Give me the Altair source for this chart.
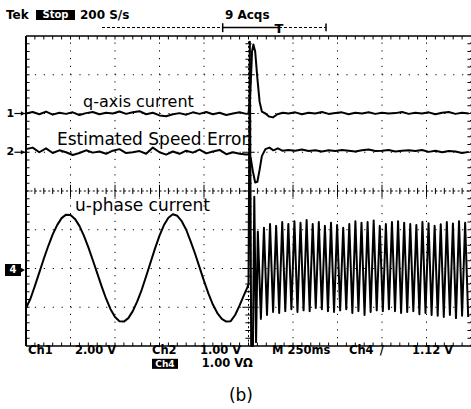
import altair as alt
import numpy as np
import pandas as pd

# ---------------- data (screen divisions: x 0..10 = 0..2.5 s, y -4..4) ----------------
# u-phase current (Ch4, ground at -2 div)
U_T = [0.0, 0.1, 0.2, 0.3, 0.4, 0.5, 0.6, 0.7, 0.8, 0.9, 1.0, 1.1, 1.2, 1.3, 1.4, 1.5, 1.6, 1.7,
       1.8, 1.9, 2.0, 2.1, 2.2, 2.3, 2.4, 2.5, 2.6, 2.7, 2.8, 2.9, 3.0, 3.1, 3.2, 3.3, 3.4, 3.5,
       3.6, 3.7, 3.8, 3.9, 4.0, 4.1, 4.2, 4.3, 4.4, 4.5, 4.6, 4.7, 4.8, 4.9, 4.97, 5.0,
       5.03, 5.06, 5.1, 5.13, 5.17]
U_V = [-3.02, -2.78, -2.45, -2.1, -1.75, -1.42, -1.12, -0.88, -0.7, -0.61, -0.62, -0.72, -0.9,
       -1.15, -1.45, -1.78, -2.12, -2.46, -2.78, -3.05, -3.25, -3.36, -3.37, -3.28, -3.1, -2.85,
       -2.55, -2.2, -1.84, -1.48, -1.15, -0.88, -0.69, -0.6, -0.64, -0.78, -1.0, -1.3, -1.62,
       -1.97, -2.32, -2.65, -2.93, -3.15, -3.3, -3.37, -3.36, -3.2, -2.95, -2.68, -2.5, -2.4,
       3.85, -4.0, -4.0, -0.15, -3.9]
# high-frequency oscillation after the step (peaks and troughs per cycle)
HF_START = 5.21
HF_PERIOD = 0.137
HF_TOP = [-1.05, -0.95, -0.85, -0.9, -0.8, -0.85, -0.78, -0.82, -0.75, -0.85, -0.8, -0.9,
          -0.82, -0.88, -0.95, -0.85, -0.78, -0.82, -0.8, -0.76, -0.9, -0.85, -0.8, -0.78,
          -0.82, -0.85, -0.88, -0.8, -0.83, -0.9, -0.86, -0.8, -0.84, -0.78, -0.82]
HF_BOT = [-3.3, -3.2, -3.12, -3.15, -3.1, -3.05, -3.12, -3.08, -3.1, -3.02, -3.05, -3.1,
          -3.12, -3.08, -3.05, -3.15, -3.1, -3.2, -3.12, -3.08, -3.1, -3.05, -3.1, -3.15,
          -3.12, -3.1, -3.18, -3.15, -3.2, -3.22, -3.25, -3.2, -3.28, -3.22, -3.25]

# q-axis current (Ch1, ground at +2 div)
Q_PRE = [2.0, 2.04, 1.98, 2.05, 1.97, 2.02, 1.99, 2.03, 1.96, 2.01, 2.04, 1.98, 2.02, 2.0,
         2.05, 1.99, 2.03, 2.06, 1.98, 2.02, 1.95, 1.93, 1.98, 2.01, 1.97, 2.03, 1.99, 2.04,
         1.98, 2.02, 1.96, 2.0, 2.03, 1.99]
Q_SPK_T = [5.0, 5.04, 5.08, 5.11, 5.15, 5.2, 5.25, 5.3, 5.38, 5.46, 5.55, 5.65, 5.77]
Q_SPK_V = [2.0, 2.5, 3.6, 3.78, 3.6, 2.9, 2.3, 2.05, 2.0, 1.92, 1.9, 1.98, 2.02]
Q_POST = [2.0, 2.03, 1.98, 2.02, 2.0, 2.04, 1.99, 2.01, 2.03, 1.98, 2.02, 2.0, 2.03, 1.99,
          2.02, 2.0, 2.01, 2.04, 1.99, 2.02, 2.0, 2.03, 1.98, 2.02, 2.04, 1.99, 2.02, 2.0]

# estimated speed error (Ch2, ground at +1 div)
E_PRE = [1.08, 1.12, 1.0, 1.1, 0.98, 1.05, 1.0, 0.93, 0.98, 1.05, 0.99, 1.02, 0.96, 1.04,
         1.08, 0.98, 1.0, 1.03, 0.96, 1.12, 1.0, 0.94, 1.02, 0.96, 1.04, 0.99, 1.07, 0.97,
         1.02, 1.06, 0.95, 1.0, 0.96, 0.94]
E_SPK_T = [5.0, 5.05, 5.1, 5.15, 5.2, 5.25, 5.3, 5.38, 5.47, 5.56, 5.66, 5.76]
E_SPK_V = [0.95, 0.85, 0.5, 0.22, 0.24, 0.55, 0.9, 1.08, 1.12, 1.05, 1.1, 1.04]
E_POST = [1.06, 1.04, 1.07, 1.03, 1.05, 1.02, 1.05, 1.03, 1.06, 1.04, 1.02, 1.05, 1.07, 1.03,
          1.04, 1.06, 1.02, 1.04, 1.05, 1.03, 1.06, 1.01, 1.04, 1.0, 1.03, 1.02, 0.98, 1.01]

PRE_T = [round(0.15 * i, 2) for i in range(len(Q_PRE))]        # sample grid 0 .. 4.95
POST_T = [round(5.9 + 0.15 * i, 2) for i in range(len(Q_POST))]  # sample grid 5.9 .. 9.95

LABELS = ["q-axis current", "Estimated Speed Error", "u-phase current"]

# ---------------- build tables ----------------
hf_t, hf_v = [], []
for k, (a, b) in enumerate(zip(HF_TOP, HF_BOT)):
    hf_t += [HF_START + k * HF_PERIOD, HF_START + (k + 0.5) * HF_PERIOD]
    hf_v += [a, b]

def trace(ch, t, v):
    return pd.DataFrame({"t": t, "v": v, "ch": ch, "i": range(len(t))})

traces = pd.concat([
    trace("u", U_T + hf_t, U_V + hf_v),
    trace("q", PRE_T + Q_SPK_T + POST_T, Q_PRE + Q_SPK_V + Q_POST),
    trace("e", PRE_T + E_SPK_T + POST_T, E_PRE + E_SPK_V + E_POST),
])

xs = alt.Scale(domain=[0, 10], nice=False, zero=False)
ys = alt.Scale(domain=[-4, 4], nice=False, zero=False)

def X(f):
    return alt.X(f, type="quantitative", scale=xs, axis=None)

def Y(f):
    return alt.Y(f, type="quantitative", scale=ys, axis=None)

def segs(rows, **mk):
    df = pd.DataFrame(rows, columns=["x", "y", "x2", "y2"])
    return alt.Chart(df).mark_rule(color="black", **mk).encode(
        x=X("x"), y=Y("y"), x2="x2", y2="y2")

def txt(items, **mk):
    df = pd.DataFrame(items, columns=["x", "y", "s"])
    return alt.Chart(df).mark_text(**mk).encode(x=X("x"), y=Y("y"), text="s:N")

def box(x, x2, y, y2):
    df = pd.DataFrame({"x": [x], "x2": [x2], "y": [y], "y2": [y2]})
    return alt.Chart(df).mark_rect(color="black").encode(x=X("x"), x2="x2", y=Y("y"), y2="y2")

# grid
minor_x = [round(v, 2) for v in np.arange(0.2, 10.0, 0.2)]
minor_y = [round(v, 2) for v in np.arange(-3.8, 4.0, 0.2)]
vgrid = segs([(x, -4, x, 4) for x in [1, 2, 3, 4, 6, 7, 8, 9, 9.99]],
             strokeDash=[1.2, 6.55], strokeWidth=1)
hgrid = segs([(0, y, 10, y) for y in [-3, -2, -1, 1, 2, 3]],
             strokeDash=[1.2, 7.7], strokeWidth=1)
center = segs([(0, 0, 10, 0), (5, -4, 5, 4)], strokeDash=[2, 2.45], strokeWidth=1)
ticks_rows = []
for x in minor_x:
    L = 0.16 if abs(x - round(x)) < 1e-6 else 0.08
    ticks_rows.append((x, -L, x, L))
    ticks_rows.append((x, 4, x, 3.91))
    ticks_rows.append((x, -4, x, -3.91))
for y in minor_y:
    L = 0.14 if abs(y - round(y)) < 1e-6 else 0.07
    ticks_rows.append((5 - L, y, 5 + L, y))
    ticks_rows.append((0, y, 0.08, y))
    ticks_rows.append((9.99, y, 9.92, y))
ticks = segs(ticks_rows, strokeWidth=1)
frame_l = segs([(0, -4, 0, 4)], strokeWidth=2)
frame_tb = segs([(0, 4, 10, 4), (0, -4, 10, -4)], strokeWidth=1.5)

# traces
lines = alt.Chart(traces).mark_line(color="black", strokeWidth=2, strokeJoin="round").encode(
    x=X("t"), y=Y("v"), detail="ch:N", order="i:Q")

# labels on the screen
lab1 = txt([(1.281, 2.168, LABELS[0])], font="DejaVu Sans", fontSize=16, align="left",
           baseline="alphabetic", color="black")
lab2 = txt([(0.697, 1.187, LABELS[1]), (1.101, -0.516, LABELS[2])], font="DejaVu Sans",
           fontSize=17, align="left", baseline="alphabetic", color="black")

# header
hdr = txt([(-0.449, 4.542, "Tek"), (1.213, 4.542, "200 S/s"), (4.47, 4.542, "9 Acqs")],
          font="DejaVu Sans", fontSize=12, fontWeight="bold", align="left", baseline="middle",
          color="black")
stop_box = box(0.225, 1.101, 4.671, 4.413)
stop_txt = txt([(0.663, 4.542, "Stop")], font="DejaVu Sans", fontSize=10, fontWeight="bold",
               align="center", baseline="middle", color="white")
trig_dash = segs([(1.708, 4.219, 4.404, 4.219), (5.685, 4.219, 6.742, 4.219)],
                 strokeDash=[3, 2], strokeWidth=1)
trig_solid = segs([(4.404, 4.219, 5.685, 4.219)], strokeWidth=1.5)
trig_end = segs([(6.742, 4.12, 6.742, 4.32), (4.42, 4.1, 4.42, 4.33)], strokeWidth=1.5)
trig_t = txt([(5.685, 4.19, "T")], font="DejaVu Sans", fontSize=13, fontWeight="bold",
             align="center", baseline="middle", color="black")

# footer
ftr1 = txt([(0.045, -4.13, "Ch1"), (1.101, -4.13, "2.00 V"), (2.831, -4.13, "Ch2"),
            (3.91, -4.13, "1.00 V"), (5.528, -4.13, "M 250ms"), (7.258, -4.13, "Ch4"),
            (7.95, -4.13, "/"), (8.674, -4.13, "1.12 V")],
           font="DejaVu Sans", fontSize=11.5, fontWeight="bold", align="left",
           baseline="middle", color="black")
ftr2 = txt([(3.95, -4.47, "1.00 VΩ")], font="DejaVu Sans", fontSize=11.5, fontWeight="bold",
           align="left", baseline="middle", color="black")
ch4_box = box(2.831, 3.416, -4.33, -4.59)
ch4_txt = txt([(3.123, -4.46, "Ch4")], font="DejaVu Sans", fontSize=9, fontWeight="bold",
              align="center", baseline="middle", color="white")
caption = txt([(4.831, -5.29, "(b)")], font="DejaVu Sans", fontSize=17, align="center",
              baseline="middle", color="black")

# channel markers on the left
mark_txt = txt([(-0.35, 2.0, "1"), (-0.35, 1.0, "2")], font="DejaVu Sans", fontSize=11,
               fontWeight="bold", align="center", baseline="middle", color="black")
mark_line = segs([(-0.26, 2.0, 0.0, 2.0), (-0.26, 1.0, 0.0, 1.0)], strokeWidth=1.2)
g4_box = box(-0.472, -0.112, -1.884, -2.194)
g4_txt = txt([(-0.292, -2.04, "4")], font="DejaVu Sans", fontSize=10, fontWeight="bold",
             align="center", baseline="middle", color="white")
arrows = alt.Chart(pd.DataFrame({"x": [-0.07, -0.07, -0.07], "y": [2.0, 1.0, -2.04]})).mark_point(
    shape="triangle-right", filled=True, color="black", size=22, opacity=1).encode(
    x=X("x"), y=Y("y"))

chart = alt.layer(
    vgrid, hgrid, center, ticks, frame_l, frame_tb,
    lab1, lab2, lines,
    hdr, stop_box, stop_txt, trig_dash, trig_solid, trig_end, trig_t,
    ftr1, ftr2, ch4_box, ch4_txt, caption,
    mark_txt, mark_line, g4_box, g4_txt, arrows,
).properties(
    width=445, height=310,
    autosize=alt.AutoSizeParams(type="none"),
    padding={"left": 26, "top": 36, "right": 0, "bottom": 63},
    background="white",
).configure_view(stroke=None)

chart.save("out.html", embed_options={"renderer": "svg", "actions": False})
